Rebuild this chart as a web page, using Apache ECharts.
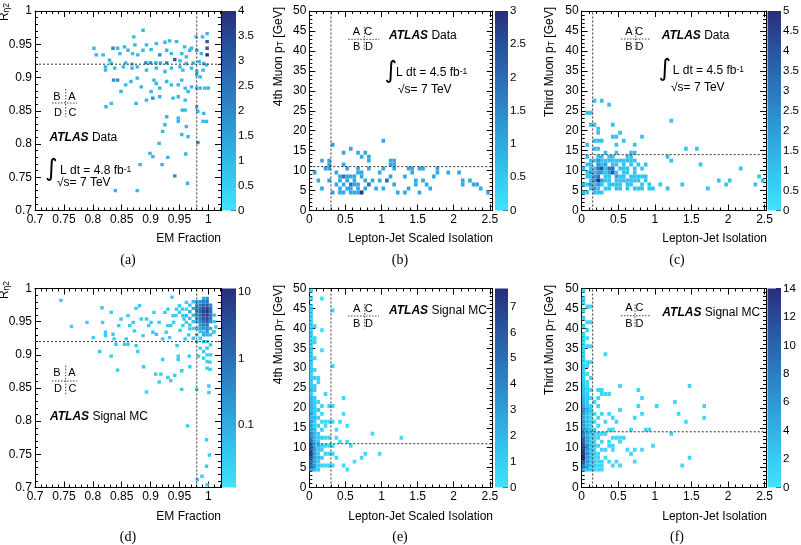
<!DOCTYPE html>
<html><head><meta charset="utf-8">
<script src="https://cdn.jsdelivr.net/npm/echarts@6/dist/echarts.min.js"></script>
<style>html,body{margin:0;padding:0;background:#fff}#c{width:801px;height:545px}</style>
</head><body><div id="c"></div>
<script>
// ================= DATA =================
const EM_RANGE = [0.7, 1.022];
const EM_TICKS = [0.7, 0.75, 0.8, 0.85, 0.9, 0.95, 1];
const RETA_RANGE = [0.7, 1.0];
const RETA_TICKS = [0.7, 0.75, 0.8, 0.85, 0.9, 0.95, 1];
const PT_RANGE = [0, 50];
const PT_TICKS = [0, 5, 10, 15, 20, 25, 30, 35, 40, 45, 50];
const SISO_RANGE = [0, 2.54];
const ISO_RANGE = [0, 2.52];
const ISO_TICKS = [0, 0.5, 1, 1.5, 2, 2.5];

const Z_TICKS_A = [0, 0.5, 1, 1.5, 2, 2.5, 3, 3.5, 4];
const Z_TICKS_B = [0, 0.5, 1, 1.5, 2, 2.5, 3];
const Z_TICKS_C = [0, 0.5, 1, 1.5, 2, 2.5, 3, 3.5, 4, 4.5, 5];
const Z_TICKS_D = [0.1, 1, 10];
const Z_TICKS_E = [0, 1, 2, 3, 4, 5, 6, 7];
const Z_TICKS_F = [0, 2, 4, 6, 8, 10, 12, 14];
const Z_RANGE_A = [0, 4], Z_RANGE_B = [0, 3], Z_RANGE_C = [0, 5];
const Z_RANGE_D = [0.0114, 11.4], Z_RANGE_E = [0, 7.7], Z_RANGE_F = [0, 14];

const CUT_EM = [0.98, 0.92];     // [EM fraction cut, R_eta2 cut]
const CUT_SISO = [0.3, 11];      // [scaled isolation cut, 4th muon pT cut]
const CUT_ISO = [0.15, 14];      // [isolation cut, third muon pT cut]

// (a) Data: [EM fraction, R_eta2, entries]
const CELLS_A = [
 [0.871,0.961,1],[0.887,0.971,1],[0.802,0.944,1],[0.835,0.944,2],[0.843,0.944,1],[0.855,0.946,1],[0.873,0.949,1],[0.893,0.949,1],[0.910,0.951,1],[0.925,0.953,1],[0.933,0.955,1],[0.945,0.954,1],[0.959,0.946,1],[0.968,0.941,1],[0.979,0.961,1],[0.990,0.961,1],[0.998,0.966,1],[0.998,0.954,3],[0.998,0.944,3],[0.998,0.934,4],
 [0.806,0.934,1],[0.818,0.934,1],[0.829,0.926,1],[0.847,0.936,1],[0.861,0.941,1],[0.869,0.936,1],[0.878,0.934,1],[0.887,0.941,1],[0.901,0.942,1],[0.916,0.934,2],[0.928,0.941,1],[0.936,0.936,1],[0.942,0.927,3],[0.954,0.936,1],[0.962,0.931,1],[0.971,0.944,1],[0.980,0.941,1],[0.988,0.936,1],
 [0.832,0.921,1],[0.857,0.922,1],[0.868,0.920,1],[0.892,0.922,2],[0.900,0.922,2],[0.909,0.922,1],[0.917,0.922,1],[0.928,0.922,2],[0.951,0.925,1],[0.962,0.921,1],[0.974,0.922,1],[0.984,0.924,1],[0.992,0.921,1],
 [0.822,0.916,1],[0.822,0.911,1],[0.838,0.914,1],[0.853,0.916,1],[0.868,0.914,1],[0.877,0.916,1],[0.893,0.911,1],[0.910,0.914,1],[0.925,0.909,1],[0.936,0.914,1],[0.951,0.916,1],[0.956,0.911,1],[0.971,0.914,1],[0.980,0.909,1],[0.991,0.911,1],[0.997,0.919,1],
 [0.836,0.896,2],[0.843,0.896,2],[0.857,0.889,1],[0.866,0.894,1],[0.877,0.899,1],[0.884,0.886,1],[0.906,0.896,1],[0.910,0.891,1],[0.901,0.879,1],[0.904,0.869,2],[0.916,0.884,1],[0.928,0.894,1],[0.936,0.889,1],[0.948,0.889,1],[0.954,0.896,1],[0.960,0.884,1],[0.965,0.879,1],[0.971,0.886,1],[0.980,0.904,1],[0.986,0.901,1],[0.986,0.884,1],[0.994,0.884,1],[1.000,0.884,1],[0.980,0.884,1],
 [0.849,0.879,1],[0.832,0.861,1],[0.823,0.856,1],[0.875,0.861,1],[0.893,0.866,1],[0.916,0.871,1],[0.939,0.869,1],[0.948,0.871,1],[0.960,0.866,1],[0.980,0.856,1],[0.955,0.851,1],[0.960,0.851,1],[0.982,0.849,1],[0.992,0.846,1],[0.948,0.839,1],[0.948,0.834,1],[0.991,0.834,1],[0.997,0.834,1],[0.928,0.841,1],[0.925,0.829,1],[0.962,0.826,1],[0.921,0.819,1],[0.954,0.814,1],[0.965,0.811,1],[0.982,0.802,2],[0.915,0.801,1],[0.899,0.786,1],[0.904,0.781,1],[0.930,0.780,1],[0.961,0.785,1],[0.882,0.769,1],[0.920,0.769,1],[0.942,0.752,2],[0.964,0.741,1],[0.839,0.730,1],[0.877,0.730,1]
];

// (b) Data: [scaled isolation, 4th muon pT, entries]
const CELLS_B = [
 [0.325,16.5,1],[0.575,15.5,1],[1.025,17.5,1],[0.475,14.5,1],[0.675,14.5,1],[0.775,14.5,1],[0.725,13.5,1],[0.825,13.5,1],[0.275,12.5,1],[0.175,12.5,1],[0.275,11.5,1],[0.475,11.5,1],[0.825,12.5,1],[1.125,12.5,1],[1.175,12.5,1],[1.125,11.5,1],[1.175,11.5,1],
 [0.075,9.5,1],[0.225,10.5,1],[0.275,10.5,1],[0.375,9.5,1],[0.525,10.5,1],[0.675,10.5,1],[0.725,9.5,1],[0.825,10.5,1],[0.975,9.5,1],[1.025,10.5,1],[1.175,10.5,1],[1.375,10.5,1],[1.425,10.5,1],[1.525,10.5,1],[1.575,10.5,1],[1.775,10.5,1],[1.775,9.5,1],[1.725,8.5,1],[1.925,9.5,1],[2.075,9.5,1],[2.125,7.5,1],[2.125,6.5,1],[2.225,7.5,1],[2.275,6.5,1],[2.325,6.5,1],[2.375,5.5,1],[2.475,4.5,1],
 [0.125,7.5,1],[0.175,5.5,1],[0.275,7.5,1],[0.325,4.5,1],[0.375,6.5,1],[0.425,8.5,1],[0.475,8.5,2],[0.525,8.5,1],[0.575,8.5,1],[0.625,8.5,1],[0.425,7.5,1],[0.525,7.5,1],[0.625,7.5,1],[0.475,6.5,1],[0.575,6.5,2],[0.625,6.5,1],[0.675,6.5,1],[0.425,5.5,1],[0.525,5.5,1],[0.575,5.5,1],[0.675,5.5,1],[0.425,4.5,1],[0.475,4.5,1],[0.575,4.5,1],[0.625,4.5,1],[0.675,4.5,1],[0.725,4.5,3],[0.775,5.5,1],[0.775,7.5,1],[0.825,6.5,2],[0.875,7.5,1],[0.925,5.5,1],[0.975,7.5,1],[1.025,5.5,1],[1.075,7.5,2],[1.125,8.5,1],[1.175,6.5,1],[1.225,4.5,1],[1.325,8.5,1],[1.375,5.5,1],[1.425,9.5,1],[1.475,7.5,1],[1.475,6.5,1],[1.525,4.5,1],[1.575,7.5,1],[1.625,6.5,1],[1.675,5.5,1],[0.725,8.5,1],[0.675,9.5,1],[1.325,4.5,1]
];

// (c) Data: [isolation, third muon pT, entries]
const CELLS_C = [
 [0.175,27.5,1],[0.275,27.5,1],[0.375,26.5,1],[0.075,24.5,1],[0.125,24.5,1],[0.125,21.5,1],[0.175,21.5,1],[0.225,20.5,1],[0.425,21.5,1],[0.225,19.5,1],[0.175,17.5,1],[0.225,17.5,1],[0.275,17.5,1],[0.425,18.5,1],[0.475,18.5,1],[0.525,19.5,1],[0.825,18.5,1],[0.725,16.5,1],[0.075,16.5,1],[0.175,15.5,1],[0.225,15.5,1],[0.475,16.5,1],[0.575,17.5,1],[1.425,15.5,1],[1.575,15.5,1],[1.225,22.5,1],[1.175,13.5,1],[1.225,12.5,1],[1.625,11.5,1],[2.175,10.5,1],[1.875,7.5,1],[2.025,7.5,1],[1.975,6.5,1],[2.375,6.5,1],[2.425,8.5,1],[2.475,7.5,1],[1.725,5.5,1],[1.375,6.5,1],[1.075,6.5,1],[1.175,5.5,1],[0.975,5.5,1],
 [0.325,14.5,1],[0.475,14.5,1],[0.675,14.5,1],[0.725,14.5,1],
 [0.075,13.5,1],[0.225,13.5,1],[0.275,13.5,1],[0.375,13.5,1],[0.425,13.5,1],[0.625,13.5,1],[0.675,13.5,1],
 [0.125,12.5,1],[0.175,12.5,1],[0.225,12.5,2],[0.275,12.5,1],[0.325,12.5,1],[0.375,12.5,1],[0.425,12.5,1],[0.475,12.5,1],[0.525,12.5,1],[0.575,12.5,1],[0.625,12.5,1],[0.675,12.5,1],[0.725,12.5,1],
 [0.075,11.5,1],[0.125,11.5,1],[0.225,11.5,2],[0.275,11.5,1],[0.325,11.5,2],[0.425,11.5,1],[0.475,11.5,1],[0.575,11.5,1],[0.675,11.5,1],[0.775,11.5,1],[0.875,11.5,1],
 [0.025,10.5,1],[0.125,10.5,1],[0.175,10.5,1],[0.225,10.5,3],[0.275,10.5,4],[0.325,10.5,1],[0.375,10.5,3],[0.425,10.5,3],[0.525,10.5,1],[0.575,10.5,1],[0.625,10.5,1],[0.725,10.5,1],[0.825,10.5,1],
 [0.075,9.5,1],[0.125,9.5,2],[0.175,9.5,1],[0.225,9.5,2],[0.275,9.5,2],[0.325,9.5,1],[0.375,9.5,2],[0.425,9.5,4],[0.475,9.5,1],[0.575,9.5,1],[0.625,9.5,1],[0.725,9.5,1],
 [0.075,8.5,1],[0.125,8.5,1],[0.175,8.5,2],[0.225,8.5,3],[0.325,8.5,1],[0.375,8.5,1],[0.475,8.5,2],[0.525,8.5,1],[0.575,8.5,1],[0.675,8.5,1],[0.725,8.5,1],[0.775,8.5,1],[0.825,8.5,1],[0.875,8.5,1],
 [0.125,7.5,1],[0.175,7.5,2],[0.225,7.5,5],[0.275,7.5,2],[0.325,7.5,1],[0.375,7.5,1],[0.475,7.5,1],[0.525,7.5,1],[0.575,7.5,1],[0.625,7.5,1],[0.675,7.5,1],[0.725,7.5,1],[0.775,7.5,1],[0.875,7.5,1],
 [0.025,6.5,1],[0.075,6.5,1],[0.125,6.5,2],[0.175,6.5,1],[0.225,6.5,2],[0.275,6.5,1],[0.375,6.5,1],[0.425,6.5,1],[0.475,6.5,1],[0.525,6.5,1],[0.625,6.5,1],[0.675,6.5,1],[0.825,6.5,1],[0.925,6.5,1],
 [0.125,5.5,1],[0.175,5.5,2],[0.225,5.5,1],[0.325,5.5,1],[0.375,5.5,1],[0.475,5.5,1],[0.525,5.5,1],[0.625,5.5,1],[0.725,5.5,1],[0.775,5.5,1],[0.825,5.5,1],[0.925,5.5,1],
 [0.025,4.5,1],[0.075,4.5,1],[0.175,4.5,1],[0.225,4.5,1],[0.275,4.5,1]
];

// (d) Signal MC: [EM fraction, R_eta2, weight]
const CELLS_D = [
 [0.745,0.982,0.03],[0.763,0.943,0.03],[0.790,0.949,0.03],[0.801,0.926,0.03],[0.812,0.905,0.03],[0.816,0.971,0.03],[0.817,0.949,0.03],[0.822,0.934,0.03],[0.822,0.929,0.03],[0.832,0.964,0.03],[0.832,0.898,0.03],[0.835,0.931,0.03],[0.837,0.924,0.03],[0.840,0.916,0.03],[0.843,0.877,0.03],[0.845,0.944,0.03],[0.849,0.954,0.03],[0.855,0.916,0.03],[0.861,0.916,0.03],[0.858,0.924,0.03],[0.861,0.959,0.03],[0.864,0.944,0.03],[0.870,0.949,0.03],[0.872,0.936,0.03],[0.875,0.914,0.03],[0.878,0.905,0.03],[0.875,0.970,0.03],[0.881,0.974,0.03],[0.884,0.954,0.03],[0.887,0.929,0.03],[0.888,0.882,0.03],[0.893,0.844,0.03],[0.893,0.954,0.03],[0.897,0.944,0.03],[0.901,0.949,0.03],[0.904,0.934,0.03],[0.906,0.964,0.03],[0.909,0.871,0.03],[0.910,0.931,0.03],[0.915,0.949,0.03],[0.915,0.859,0.03],[0.918,0.871,0.03],[0.921,0.893,0.03],[0.921,0.924,0.03],[0.925,0.964,0.03],[0.927,0.934,0.03],[0.930,0.969,0.03],[0.930,0.944,0.03],[0.933,0.926,0.03],[0.930,0.866,0.03],[0.935,0.861,0.03],[0.937,0.987,0.03],[0.939,0.959,0.03],[0.942,0.869,0.03],[0.945,0.969,0.03],[0.946,0.914,0.03],[0.948,0.898,0.03],[0.948,0.893,0.03],[0.951,0.937,0.03],[0.954,0.876,0.03],[0.954,0.848,0.03],[0.955,0.969,0.03],[0.958,0.954,0.03],[0.960,0.924,0.03],[0.962,0.969,0.03],[0.964,0.793,0.03],[0.967,0.898,0.03],[0.968,0.882,0.03],[0.968,0.939,0.03],[0.980,0.848,0.03],[0.981,0.712,0.03],[0.983,0.898,0.03],[0.989,0.717,0.03],[0.992,0.934,0.05],[0.997,0.772,0.03],[0.997,0.732,0.03],[0.998,0.704,0.03],[1.001,0.853,0.03],[1.001,0.843,0.03],[1.002,0.749,0.03],[1.003,0.889,0.03],[1.003,0.878,0.03],[1.009,0.934,0.03],[1.013,0.942,0.03],
 [0.950,0.964,0.03],[0.956,0.959,0.03],[0.962,0.959,0.05],[0.962,0.949,0.03],[0.940,0.949,0.03],[0.950,0.974,0.03],[0.944,0.959,0.03],[0.935,0.944,0.03],[0.956,0.944,0.03],[0.962,0.979,0.03],[0.966,0.930,0.03],
 [0.968,0.975,0.05],[0.968,0.965,0.08],[0.968,0.955,0.05],[0.968,0.945,0.03],
 [0.974,0.980,0.05],[0.974,0.970,0.1],[0.974,0.960,0.08],[0.974,0.950,0.05],[0.974,0.940,0.03],[0.974,0.925,0.03],
 [0.980,0.980,0.1],[0.980,0.975,0.2],[0.980,0.970,0.3],[0.980,0.965,0.3],[0.980,0.960,0.2],[0.980,0.955,0.1],[0.980,0.950,0.08],[0.980,0.940,0.05],[0.980,0.930,0.05],[0.980,0.920,0.03],
 [0.986,0.980,0.2],[0.986,0.975,0.5],[0.986,0.970,1],[0.986,0.965,1.5],[0.986,0.960,1],[0.986,0.955,0.5],[0.986,0.950,0.3],[0.986,0.945,0.2],[0.986,0.940,0.1],[0.986,0.935,0.05],[0.986,0.925,0.03],[0.986,0.910,0.03],
 [0.992,0.985,0.1],[0.992,0.980,0.5],[0.992,0.975,1.5],[0.992,0.970,3],[0.992,0.965,5],[0.992,0.960,4],[0.992,0.955,2],[0.992,0.950,1],[0.992,0.945,0.5],[0.992,0.940,0.2],[0.992,0.930,0.1],[0.992,0.920,0.05],[0.992,0.905,0.03],[0.992,0.895,0.03],
 [0.998,0.985,0.2],[0.998,0.980,0.8],[0.998,0.975,2],[0.998,0.970,5],[0.998,0.965,10],[0.998,0.960,8],[0.998,0.955,4],[0.998,0.950,2],[0.998,0.945,0.8],[0.998,0.940,0.3],[0.998,0.935,0.2],[0.998,0.930,0.1],[0.998,0.920,0.05],[0.998,0.910,0.05],[0.998,0.900,0.03],[0.998,0.890,0.03],[0.998,0.880,0.03],
 [1.004,0.975,0.3],[1.004,0.970,0.8],[1.004,0.965,1],[1.004,0.960,0.8],[1.004,0.955,0.5],[1.004,0.950,0.3],[1.004,0.940,0.1],[1.004,0.930,0.05],[1.004,0.915,0.03],[1.004,0.900,0.03],
 [1.010,0.960,0.05],[1.010,0.950,0.03],[1.010,0.935,0.03]
];

// (e) Signal MC: [scaled isolation, 4th muon pT, entries]
const CELLS_E = [
 [0.025,4.5,3],[0.025,5.5,5],[0.025,6.5,5],[0.025,7.5,6],[0.025,8.5,7],[0.025,9.5,6],[0.025,10.5,6],[0.025,11.5,5],[0.025,12.5,4],[0.025,13.5,4],[0.025,14.5,3],[0.025,15.5,3],[0.025,16.5,3],[0.025,17.5,2],[0.025,18.5,3],[0.025,19.5,2],[0.025,20.5,2],[0.025,21.5,2],[0.025,22.5,2],[0.025,23.5,1],[0.025,24.5,2],[0.025,25.5,1],[0.025,26.5,1],[0.025,27.5,1],[0.025,28.5,1],[0.025,29.5,1],[0.025,30.5,1],[0.025,31.5,1],[0.025,32.5,1],[0.025,33.5,1],[0.025,34.5,1],[0.025,35.5,0.5],[0.025,36.5,1],[0.025,37.5,0.5],[0.025,38.5,1],[0.025,39.5,0.5],[0.025,40.5,1],[0.025,41.5,0.5],[0.025,42.5,0.5],[0.025,43.5,0.5],[0.025,44.5,0.5],[0.025,45.5,0.5],[0.025,47.5,0.5],[0.025,49.5,0.5],
 [0.075,4.5,2],[0.075,5.5,3],[0.075,6.5,3],[0.075,7.5,3],[0.075,8.5,3],[0.075,9.5,3],[0.075,10.5,2],[0.075,11.5,2],[0.075,12.5,2],[0.075,13.5,2],[0.075,14.5,2],[0.075,15.5,1],[0.075,16.5,1],[0.075,17.5,2],[0.075,18.5,1],[0.075,19.5,1],[0.075,20.5,1],[0.075,21.5,1],[0.075,22.5,1],[0.075,24.5,1],[0.075,25.5,1],[0.075,27.5,1],[0.075,29.5,0.5],[0.075,32.5,0.5],[0.075,36.5,0.5],[0.075,37.5,0.5],[0.075,40.5,0.5],
 [0.125,4.5,1],[0.125,5.5,1],[0.125,6.5,1],[0.125,7.5,2],[0.125,8.5,1],[0.125,9.5,1],[0.125,10.5,2],[0.125,11.5,1],[0.125,12.5,1],[0.125,13.5,1],[0.125,15.5,1],[0.125,17.5,1],[0.125,19.5,1],[0.125,21.5,0.5],[0.125,26.5,0.5],[0.125,27.5,0.5],
 [0.175,5.5,1],[0.175,7.5,1],[0.175,9.5,1],[0.175,10.5,1],[0.175,12.5,1],[0.175,14.5,1],[0.175,16.5,0.5],[0.175,18.5,0.5],[0.175,20.5,0.5],
 [0.225,5.5,0.5],[0.225,8.5,1],[0.225,10.5,0.5],[0.225,12.5,0.5],[0.225,15.5,0.5],[0.225,16.5,0.5],
 [0.275,5.5,1],[0.275,8.5,0.5],[0.275,10.5,0.5],[0.275,12.5,0.5],[0.275,16.5,0.5],[0.275,20.5,0.5],
 [0.175,47.5,0.3],[0.325,44.5,0.3],[0.175,39.5,0.3],[0.175,34.5,0.3],[0.325,30.5,0.3],[0.225,23.5,0.3],[0.475,22.5,0.3],[0.325,20.5,0.3],[0.475,18.5,0.3],[0.325,16.5,0.3],[0.425,16.5,0.3],[0.375,14.5,0.3],[0.525,15.5,0.3],[0.375,12.5,0.3],[0.875,13.5,0.3],[1.275,12.5,0.3],[0.425,11.5,0.3],[0.525,11.5,0.3],[0.575,10.5,0.3],[0.625,6.5,0.3],[0.725,7.5,0.3],[0.775,8.5,0.3],[0.975,8.5,0.3],[0.475,5.5,0.3],[0.525,4.5,0.3],[0.325,8.5,0.3],[0.375,7.5,0.3],[0.325,10.5,0.3],[0.325,5.5,0.3]
];

// (f) Signal MC: [isolation, third muon pT, entries]
const CELLS_F = [
 [0.025,4.5,4],[0.025,5.5,8],[0.025,6.5,10],[0.025,7.5,14],[0.025,8.5,13],[0.025,9.5,12],[0.025,10.5,11],[0.025,11.5,10],[0.025,12.5,9],[0.025,13.5,8],[0.025,14.5,7],[0.025,15.5,6],[0.025,16.5,6],[0.025,17.5,5],[0.025,18.5,6],[0.025,19.5,7],[0.025,20.5,5],[0.025,21.5,4],[0.025,22.5,4],[0.025,23.5,3],[0.025,24.5,3],[0.025,25.5,3],[0.025,26.5,2],[0.025,27.5,2],[0.025,28.5,2],[0.025,29.5,2],[0.025,30.5,2],[0.025,31.5,1],[0.025,32.5,1],[0.025,33.5,1],[0.025,34.5,1],[0.025,35.5,1],[0.025,36.5,1],[0.025,37.5,1],[0.025,38.5,1],[0.025,40.5,1],[0.025,42.5,1],[0.025,44.5,1],[0.025,46.5,1],[0.025,47.5,1],[0.025,49.5,1],
 [0.075,4.5,3],[0.075,5.5,5],[0.075,6.5,6],[0.075,7.5,6],[0.075,8.5,7],[0.075,9.5,6],[0.075,10.5,7],[0.075,11.5,5],[0.075,12.5,5],[0.075,13.5,4],[0.075,14.5,4],[0.075,15.5,3],[0.075,16.5,3],[0.075,17.5,3],[0.075,18.5,3],[0.075,19.5,4],[0.075,20.5,2],[0.075,21.5,2],[0.075,22.5,2],[0.075,23.5,2],[0.075,24.5,1],[0.075,25.5,1],[0.075,26.5,1],[0.075,28.5,1],[0.075,30.5,1],[0.075,31.5,1],[0.075,35.5,1],[0.075,37.5,1],[0.075,39.5,1],[0.075,41.5,1],[0.075,45.5,1],
 [0.125,4.5,2],[0.125,5.5,3],[0.125,6.5,3],[0.125,7.5,3],[0.125,8.5,3],[0.125,9.5,3],[0.125,10.5,3],[0.125,11.5,2],[0.125,12.5,2],[0.125,13.5,2],[0.125,14.5,2],[0.125,15.5,1],[0.125,16.5,2],[0.125,17.5,1],[0.125,18.5,1],[0.125,19.5,2],[0.125,20.5,1],[0.125,22.5,1],[0.125,24.5,1],[0.125,27.5,1],[0.125,31.5,1],[0.125,35.5,1],[0.125,41.5,1],[0.125,45.5,1],
 [0.175,4.5,1],[0.175,5.5,2],[0.175,6.5,2],[0.175,7.5,1],[0.175,8.5,2],[0.175,9.5,1],[0.175,10.5,2],[0.175,11.5,1],[0.175,12.5,1],[0.175,13.5,1],[0.175,14.5,1],[0.175,16.5,1],[0.175,18.5,1],[0.175,21.5,1],
 [0.225,4.5,1],[0.225,5.5,1],[0.225,6.5,1],[0.225,7.5,1],[0.225,8.5,1],[0.225,10.5,1],[0.225,12.5,1],[0.225,13.5,1],[0.225,15.5,1],[0.225,17.5,1],[0.225,20.5,1],[0.225,22.5,1],[0.225,24.5,1],
 [0.275,4.5,1],[0.275,5.5,1],[0.275,6.5,1],[0.275,9.5,1],[0.275,11.5,1],[0.275,13.5,1],[0.275,18.5,1],[0.275,23.5,1],[0.275,24.5,1],
 [0.325,33.5,1],[0.325,23.5,1],[0.375,23.5,1],[0.525,25.5,1],[0.775,24.5,1],[0.825,22.5,1],[1.475,25.5,1],[1.025,20.5,1],[1.275,21.5,1],[0.775,20.5,1],[0.525,19.5,1],[1.675,20.5,1],[1.675,17.5,1],[1.325,18.5,1],[1.425,16.5,1],[0.825,18.5,1],[0.725,17.5,1],[0.375,18.5,1],[0.425,17.5,1],[0.475,16.5,1],[1.225,13.5,1],[0.875,14.5,1],[0.925,14.5,1],[0.675,14.5,1],[0.375,14.5,1],[0.425,14.5,1],[0.325,13.5,1],[0.475,12.5,1],[0.525,12.5,1],[0.575,12.5,1],[0.525,11.5,1],[0.625,9.5,1],[0.725,9.5,1],[0.675,8.5,1],[0.825,9.5,1],[0.975,10.5,1],[0.375,10.5,1],[0.425,10.5,1],[0.325,9.5,1],[0.425,9.5,1],[0.725,6.5,1],[1.475,7.5,1],[1.375,5.5,1],[0.525,5.5,1],[0.425,5.5,1],[0.475,6.5,1],[0.375,6.5,1],[0.325,7.5,1],[0.375,11.5,1],[0.425,12.5,1],[0.325,16.5,1]
];

// ================= STYLE / LAYOUT =================
const FONT = '"Liberation Sans", Arial, Helvetica, sans-serif';
const SERIF = '"Liberation Serif", "Times New Roman", serif';
const PALETTE = ['#3fe3fc', '#33c3ee', '#2e9cd9', '#2b78be', '#2a549f', '#272e7c'];

const ROWS = [{top: 11, height: 199.5}, {top: 288.5, height: 199}];
const COLS = [
  {plot: [35, 186], cb: [222, 14]},
  {plot: [309.3, 183.4], cb: [495, 13]},
  {plot: [581.7, 184.3], cb: [767.5, 13.5]}
];

const PANELS = [
  {row:0, col:0, cells:CELLS_A, xr:EM_RANGE, xt:EM_TICKS, xm:0.01, yr:RETA_RANGE, yt:RETA_TICKS, ym:0.01, bw:0.006, bh:0.005, zr:Z_RANGE_A, zt:Z_TICKS_A, log:false, cut:CUT_EM},
  {row:0, col:1, cells:CELLS_B, xr:SISO_RANGE, xt:ISO_TICKS, xm:0.1, yr:PT_RANGE, yt:PT_TICKS, ym:1, bw:0.05, bh:1, zr:Z_RANGE_B, zt:Z_TICKS_B, log:false, cut:CUT_SISO},
  {row:0, col:2, cells:CELLS_C, xr:ISO_RANGE, xt:ISO_TICKS, xm:0.1, yr:PT_RANGE, yt:PT_TICKS, ym:1, bw:0.05, bh:1, zr:Z_RANGE_C, zt:Z_TICKS_C, log:false, cut:CUT_ISO},
  {row:1, col:0, cells:CELLS_D, xr:EM_RANGE, xt:EM_TICKS, xm:0.01, yr:RETA_RANGE, yt:RETA_TICKS, ym:0.01, bw:0.006, bh:0.005, zr:Z_RANGE_D, zt:Z_TICKS_D, log:true, cut:CUT_EM},
  {row:1, col:1, cells:CELLS_E, xr:SISO_RANGE, xt:ISO_TICKS, xm:0.1, yr:PT_RANGE, yt:PT_TICKS, ym:1, bw:0.05, bh:1, zr:Z_RANGE_E, zt:Z_TICKS_E, log:false, cut:CUT_SISO},
  {row:1, col:2, cells:CELLS_F, xr:ISO_RANGE, xt:ISO_TICKS, xm:0.1, yr:PT_RANGE, yt:PT_TICKS, ym:1, bw:0.05, bh:1, zr:Z_RANGE_F, zt:Z_TICKS_F, log:false, cut:CUT_ISO}
];

function mkAxis(gi, pos, range, ticks, minor, kind) {
  const ax = {type:'value', gridIndex:gi, position:pos, min:range[0], max:range[1],
    splitLine:{show:false}, splitArea:{show:false}, axisPointer:{show:false}, silent:true};
  if (kind === 'minor') {
    ax.interval = minor;
    ax.axisLine = {show:false, onZero:false};
    ax.axisTick = {show:true, inside:true, length:3, lineStyle:{color:'#000', width:1}};
    ax.axisLabel = {show:false};
  } else {
    ax.interval = ticks[1] - ticks[0];
    ax.axisLine = {show:true, onZero:false, lineStyle:{color:'#000', width:1}};
    ax.axisTick = {show:true, inside:true, length:6, customValues:ticks, lineStyle:{color:'#000', width:1}};
    ax.axisLabel = kind === 'label'
      ? {show:true, customValues:ticks, margin:3, color:'#000', fontSize:12, fontFamily:FONT}
      : {show:false};
  }
  return ax;
}

function cellItem(bw, bh) {
  return function (params, api) {
    const x = api.value(0), y = api.value(1);
    const a = api.coord([x - bw / 2, y + bh / 2]);
    const b = api.coord([x + bw / 2, y - bh / 2]);
    return {type:'rect', shape:{x:a[0], y:a[1], width:b[0] - a[0], height:b[1] - a[1]},
      style:{fill:api.visual('color'), stroke:null}};
  };
}

const gradStops = PALETTE.map((c, i) => ({offset: i / (PALETTE.length - 1), color: c}));
function cbarItem(params, api) {
  const a = api.coord([0, api.value(2)]);
  const b = api.coord([1, api.value(1)]);
  return {type:'rect', shape:{x:a[0], y:a[1], width:b[0] - a[0], height:b[1] - a[1]},
    style:{fill:new echarts.graphic.LinearGradient(0, 1, 0, 0, gradStops), stroke:null}};
}

const option = {animation:false, backgroundColor:'#fff', grid:[], xAxis:[], yAxis:[], series:[], visualMap:[], graphic:[]};
const dotted = {color:'#333', width:1, type:[2, 2]};

PANELS.forEach(p => {
  const R = ROWS[p.row], C = COLS[p.col];
  const gi = option.grid.length;
  option.grid.push({left:C.plot[0], top:R.top, width:C.plot[1], height:R.height, containLabel:false, outerBoundsMode:'none'});
  option.grid.push({left:C.cb[0], top:R.top, width:C.cb[1], height:R.height, containLabel:false, outerBoundsMode:'none'});
  const xi = option.xAxis.length, yi = option.yAxis.length;
  option.xAxis.push(mkAxis(gi, 'bottom', p.xr, p.xt, p.xm, 'label'));
  option.xAxis.push(mkAxis(gi, 'bottom', p.xr, p.xt, p.xm, 'minor'));
  option.xAxis.push(mkAxis(gi, 'top', p.xr, p.xt, p.xm, 'major'));
  option.xAxis.push(mkAxis(gi, 'top', p.xr, p.xt, p.xm, 'minor'));
  option.yAxis.push(mkAxis(gi, 'left', p.yr, p.yt, p.ym, 'label'));
  option.yAxis.push(mkAxis(gi, 'left', p.yr, p.yt, p.ym, 'minor'));
  option.yAxis.push(mkAxis(gi, 'right', p.yr, p.yt, p.ym, 'major'));
  option.yAxis.push(mkAxis(gi, 'right', p.yr, p.yt, p.ym, 'minor'));
  // colour bar axes
  const cxi = option.xAxis.length, cyi = option.yAxis.length;
  option.xAxis.push({type:'value', gridIndex:gi + 1, min:0, max:1, show:false});
  option.yAxis.push({type:p.log ? 'log' : 'value', logBase:10, gridIndex:gi + 1, position:'right', min:p.zr[0], max:p.zr[1],
    interval: p.log ? undefined : p.zt[1] - p.zt[0],
    splitLine:{show:false}, axisLine:{show:false, onZero:false},
    axisTick:{show:true, inside:true, length:5, customValues:p.zt, lineStyle:{color:'#1a2a50', width:1}},
    minorTick:{show:false},
    axisLabel:{show:true, customValues:p.zt, margin:2, color:'#000', fontSize:11.5, fontFamily:FONT,
      formatter: v => String(+v.toPrecision(6))}});

  // histogram cells
  const rows = p.cells.map(c => p.log ? [c[0], c[1], c[2], Math.log10(c[2])] : [c[0], c[1], c[2]]);
  option.series.push({type:'custom', coordinateSystem:'cartesian2d', xAxisIndex:xi, yAxisIndex:yi,
    data:rows, encode:{x:0, y:1}, clip:true, silent:true, z:2, renderItem:cellItem(p.bw, p.bh)});
  option.visualMap.push({type:'continuous', show:false, seriesIndex:option.series.length - 1,
    dimension:p.log ? 3 : 2,
    min:p.log ? Math.log10(p.zr[0]) : p.zr[0], max:p.log ? Math.log10(p.zr[1]) : p.zr[1],
    inRange:{color:PALETTE}});
  // cut lines
  option.series.push({type:'line', xAxisIndex:xi, yAxisIndex:yi, data:[[p.xr[0], p.cut[1]], [p.xr[1], p.cut[1]]],
    symbol:'none', silent:true, z:5, lineStyle:dotted});
  option.series.push({type:'line', xAxisIndex:xi, yAxisIndex:yi, data:[[p.cut[0], p.yr[0]], [p.cut[0], p.yr[1]]],
    symbol:'none', silent:true, z:5, lineStyle:dotted});
  // colour bar
  option.series.push({type:'custom', coordinateSystem:'cartesian2d', xAxisIndex:cxi, yAxisIndex:cyi,
    data:[[0, p.zr[0], p.zr[1]]], encode:{x:0, y:1}, clip:false, silent:true, z:1, renderItem:cbarItem});
});

// ================= TEXT =================
const G = option.graphic;
function txt(x, y, text, o) {
  o = o || {};
  G.push({type:'text', x, y, rotation:o.rot || 0, silent:true, z:10,
    style:{text, fill:'#000', fontSize:o.size || 12, fontFamily:o.font || FONT,
      fontWeight:o.weight || 'normal', fontStyle:o.style || 'normal',
      align:o.align || 'left', verticalAlign:'middle', rich:o.rich || undefined}});
}
function dline(x1, y1, x2, y2) {
  G.push({type:'line', silent:true, z:10, shape:{x1, y1, x2, y2}, style:{stroke:'#444', lineWidth:1, lineDash:[1.5, 1.5]}});
}
const SUB = {s:{fontSize:8.5, fontFamily:FONT, verticalAlign:'bottom', fill:'#000'}};
const SUP = {p:{fontSize:8.5, fontFamily:FONT, verticalAlign:'top', fill:'#000'}};
const ATL = {b:{fontSize:12, fontFamily:FONT, fontWeight:'bold', fontStyle:'italic', fill:'#000'}};

// y-axis titles
txt(5, 3, 'R{s|η2}', {rot:Math.PI / 2, align:'right', rich:SUB});
txt(279, 7, '4th Muon p{s|T} [GeV]', {rot:Math.PI / 2, align:'right', rich:SUB});
txt(550, 7, 'Third Muon p{s|T} [GeV]', {rot:Math.PI / 2, align:'right', rich:SUB});
txt(5, 281, 'R{s|η2}', {rot:Math.PI / 2, align:'right', rich:SUB});
txt(279, 285, '4th Muon p{s|T} [GeV]', {rot:Math.PI / 2, align:'right', rich:SUB});
txt(550, 285, 'Third Muon p{s|T} [GeV]', {rot:Math.PI / 2, align:'right', rich:SUB});
// x-axis titles
[[221, 239, 'EM Fraction'], [493, 239, 'Lepton-Jet Scaled Isolation'], [767, 239, 'Lepton-Jet Isolation'],
 [221, 517, 'EM Fraction'], [493, 517, 'Lepton-Jet Scaled Isolation'], [767, 517, 'Lepton-Jet Isolation']]
  .forEach(t => txt(t[0], t[1], t[2], {align:'right'}));
// captions
[[128, 260, '(a)'], [400, 260, '(b)'], [677, 260, '(c)'], [128, 537, '(d)'], [400, 537, '(e)'], [677, 537, '(f)']]
  .forEach(t => txt(t[0], t[1], t[2], {align:'center', font:SERIF, size:14}));

// region letters
function letters(list) { list.forEach(l => txt(l[0], l[1], l[2], {align:'center', size:11})); }
letters([[57, 97.3, 'B'], [72, 97.3, 'A'], [58, 112.7, 'D'], [72.5, 112.7, 'C']]);
dline(65.7, 89, 65.7, 117); dline(52, 103, 77, 103);
letters([[356.3, 32.3, 'A'], [368.3, 32.3, 'C'], [356.7, 46.7, 'B'], [369, 46.7, 'D']]);
dline(364.3, 26.7, 364.3, 51); dline(348.3, 39.3, 379.3, 39.3);
letters([[629, 32.3, 'A'], [639.3, 32.3, 'C'], [629, 46.7, 'B'], [639.5, 46.7, 'D']]);
dline(635.7, 26.7, 635.7, 50); dline(621, 39, 650, 39);
letters([[57, 373.3, 'B'], [72, 373.3, 'A'], [58, 389.3, 'D'], [72.5, 389.3, 'C']]);
dline(65.7, 365.7, 65.7, 394.3); dline(52, 381, 77, 381);
letters([[356.7, 309.3, 'A'], [368.8, 309.3, 'C'], [356.7, 323.7, 'B'], [369, 323.7, 'D']]);
dline(364.7, 304, 364.7, 328.3); dline(348, 316, 379, 316);
letters([[629, 307.7, 'A'], [639.5, 307.7, 'C'], [629, 323.7, 'B'], [639.5, 323.7, 'D']]);
dline(635, 304.3, 635, 327.7); dline(621, 315.7, 650, 315.7);

// ATLAS labels
txt(49.5, 137.7, '{b|ATLAS} Data', {rich:ATL});
txt(389, 35.7, '{b|ATLAS} Data', {rich:ATL});
txt(661.7, 35.7, '{b|ATLAS} Data', {rich:ATL});
txt(50, 416.3, '{b|ATLAS} Signal MC', {rich:ATL});
txt(389, 311, '{b|ATLAS} Signal MC', {rich:ATL});
txt(662.3, 312.7, '{b|ATLAS} Signal MC', {rich:ATL});

// luminosity
function lumi(ix, iy, lx, ly, sx, sy, L) {
  txt(ix, iy, '∫', {align:'center', size:24, font:'"DejaVu Sans", sans-serif'});
  txt(lx, ly, 'L dt = ' + L + ' fb{p|-1}', {rich:SUP});
  txt(sx, sy, '√s= 7 TeV');
}
lumi(51.5, 170, 60, 171, 57, 183, '4.8');
lumi(391, 71.5, 396, 72.7, 398, 89.3, '4.5');
lumi(665, 69.5, 672.7, 71, 671, 87.7, '4.5');

const chart = echarts.init(document.getElementById('c'), null, {renderer:'canvas'});
chart.setOption(option);
</script></body></html>
